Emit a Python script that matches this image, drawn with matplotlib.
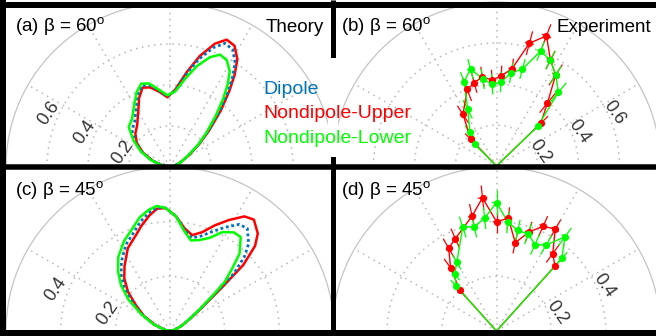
import numpy as np
import matplotlib
matplotlib.use("Agg")
import matplotlib.pyplot as plt
from matplotlib.lines import Line2D
from matplotlib.patches import Rectangle

plt.rcParams['font.family'] = ['Liberation Sans', 'DejaVu Sans']
plt.rcParams['mathtext.fontset'] = 'custom'
plt.rcParams['mathtext.rm'] = 'Liberation Sans'

W, H = 656, 336
BLUE, RED, GREEN = '#0072BD', '#FF0000', '#00FF00'

# ---- theory, beta = 60 deg (theta in degrees, r)
th_a = [0, 15, 25, 32, 38, 43, 48, 52, 55, 58, 62, 66, 70, 75, 80, 86, 92, 98,
        104, 109, 114, 120, 128, 136, 144, 152, 160, 168, 180]
up_a = [0, 0.03, 0.06, 0.11, 0.18, 0.26, 0.37, 0.47, 0.55, 0.62, 0.67, 0.68, 0.64,
        0.56, 0.47, 0.38, 0.34, 0.37, 0.40, 0.41, 0.37, 0.31, 0.26, 0.235, 0.20,
        0.15, 0.09, 0.04, 0]
dip_a = [0, 0.03, 0.06, 0.105, 0.175, 0.25, 0.355, 0.455, 0.53, 0.60, 0.65, 0.66,
         0.62, 0.545, 0.46, 0.375, 0.345, 0.375, 0.41, 0.42, 0.385, 0.33, 0.28,
         0.258, 0.21, 0.155, 0.095, 0.04, 0]
lo_a = [0, 0.03, 0.06, 0.10, 0.17, 0.24, 0.33, 0.42, 0.49, 0.55, 0.59, 0.60, 0.57,
        0.51, 0.44, 0.37, 0.35, 0.38, 0.42, 0.43, 0.40, 0.35, 0.30, 0.28, 0.22,
        0.16, 0.10, 0.04, 0]

# ---- theory, beta = 45 deg
th_c = [0, 15, 25, 32, 36, 40, 42, 45, 48, 53, 57, 62, 67, 72, 77, 82, 87, 92, 96,
        100, 105, 110, 117, 125, 131, 137, 143, 150, 158, 168, 180]
up_c = [0, 0.02, 0.05, 0.09, 0.14, 0.25, 0.36, 0.44, 0.48, 0.51, 0.50, 0.46, 0.42,
        0.38, 0.36, 0.38, 0.42, 0.45, 0.45, 0.43, 0.40, 0.37, 0.34, 0.29, 0.255,
        0.21, 0.155, 0.11, 0.06, 0.02, 0]
dip_c = [0, 0.02, 0.05, 0.088, 0.135, 0.23, 0.315, 0.385, 0.43, 0.47, 0.465, 0.43,
         0.395, 0.365, 0.35, 0.375, 0.42, 0.45, 0.455, 0.44, 0.415, 0.385, 0.355,
         0.31, 0.272, 0.228, 0.17, 0.115, 0.062, 0.02, 0]
lo_c = [0, 0.02, 0.05, 0.085, 0.13, 0.21, 0.27, 0.32, 0.38, 0.43, 0.43, 0.41, 0.37,
        0.35, 0.34, 0.37, 0.42, 0.45, 0.46, 0.45, 0.43, 0.40, 0.37, 0.33, 0.29,
        0.245, 0.19, 0.12, 0.065, 0.02, 0]

# ---- experiment, beta = 60 deg
up_b_th = [44, 51, 57, 63, 69, 75, 81, 87, 93, 99, 105, 111, 123, 134]
up_b_r = [0.30, 0.395, 0.53, 0.58, 0.68, 0.62, 0.48, 0.44, 0.42, 0.44, 0.42, 0.40, 0.30, 0.18]
up_b_err = [0.05, 0.06, 0.06, 0.05, 0.06, 0.06, 0.05, 0.05, 0.05, 0.05, 0.05, 0.06, 0.05, 0.04]
lo_b_th = [44, 50, 57, 63, 69, 75, 81, 87, 93, 99, 105, 111, 117, 128, 135]
lo_b_r = [0.28, 0.47, 0.53, 0.58, 0.60, 0.49, 0.46, 0.41, 0.40, 0.43, 0.49, 0.44, 0.31, 0.21, 0.15]
lo_b_err = [0.04, 0.06, 0.05, 0.05, 0.05, 0.05, 0.05, 0.05, 0.05, 0.05, 0.05, 0.05, 0.05, 0.04, 0.04]

# ---- experiment, beta = 45 deg
up_d_th = [48, 54, 60, 66, 72, 78, 84, 90, 96, 102, 114, 120, 126, 132]
up_d_r = [0.32, 0.35, 0.43, 0.42, 0.38, 0.33, 0.415, 0.40, 0.49, 0.43, 0.37, 0.35, 0.286, 0.20]
up_d_err = [0.03, 0.04, 0.04, 0.04, 0.04, 0.04, 0.04, 0.04, 0.045, 0.045, 0.04, 0.04, 0.04, 0.03]
lo_d_th = [48, 54, 60, 66, 72, 78, 84, 90, 96, 102, 108, 120, 126, 132]
lo_d_r = [0.357, 0.426, 0.363, 0.346, 0.374, 0.376, 0.40, 0.47, 0.415, 0.39, 0.40, 0.29, 0.26, 0.22]
lo_d_err = [0.03, 0.04, 0.04, 0.04, 0.04, 0.04, 0.04, 0.045, 0.04, 0.04, 0.04, 0.03, 0.03, 0.03]
th_err = 2.0

rticks_60 = [0.2, 0.4, 0.6]
rticks_45 = [0.2, 0.4]

fig = plt.figure(figsize=(W / 100, H / 100), dpi=100)


def polar_panel(ox, oy, R, rmax, rticks, lab_th, lab_r, rot):
    # square box, the half disk sits in its middle half
    ax = fig.add_axes([(ox - R) / W, (H - oy - 0.5 * R) / H, 2 * R / W, 2 * R / H],
                      projection='polar')
    ax.set_thetamin(0)
    ax.set_thetamax(180)
    ax.set_rlim(0, rmax)
    ax.set_rticks(rticks)
    ax.set_yticklabels([])
    ax.set_xticks(np.deg2rad([0, 30, 60, 90, 120, 150, 180]))
    ax.set_xticklabels([])
    ax.tick_params(length=0)
    ax.grid(True, color='#b8b8b8', linestyle=(0, (1, 3)), linewidth=1.1)
    ax.spines['polar'].set_color('#c4c4c4')
    ax.spines['polar'].set_linewidth(0.9)
    for s in ['start', 'end', 'inner']:
        ax.spines[s].set_visible(False)
    ax.patch.set_visible(False)
    for t, th, r in zip(rticks, lab_th, lab_r):
        ax.text(np.deg2rad(th), r, '%g' % t, rotation=rot, ha='center', va='center',
                rotation_mode='anchor', fontsize=13, color='#333333')
    return ax


def theory(ax, th, up, dip, lo):
    t = np.deg2rad(th)
    ax.plot(t, up, color=RED, lw=1.8)
    ax.plot(t, dip, color=BLUE, lw=2.0, linestyle=(0, (1, 1)))
    ax.plot(t, lo, color=GREEN, lw=1.8)


def experiment(ax, th, r, err, c):
    t = np.deg2rad(th)
    ax.errorbar(t, r, yerr=err, xerr=np.deg2rad(th_err), fmt='none', ecolor=c,
                elinewidth=0.9, capsize=0, zorder=2)
    ax.plot(np.deg2rad([th[0]] + th + [th[-1]]), [0] + r + [0], color=c, lw=1.0, zorder=3)
    ax.plot(t, r, 'o', color=c, ms=5.2, mec='none', zorder=4)


R = 164
ax_a = polar_panel(170, 167, R, 0.8, rticks_60, [163, 158, 156], [0.24, 0.45, 0.645], 55)
theory(ax_a, th_a, up_a, dip_a, lo_a)

ax_b = polar_panel(496.5, 166, R, 0.8, rticks_60, [18, 22.5, 24.5], [0.225, 0.435, 0.63], -55)
experiment(ax_b, up_b_th, up_b_r, up_b_err, RED)
experiment(ax_b, lo_b_th, lo_b_r, lo_b_err, GREEN)

ax_c = polar_panel(170, 331, R, 0.6, rticks_45, [164, 160], [0.236, 0.443], 55)
theory(ax_c, th_c, up_c, dip_c, lo_c)

ax_d = polar_panel(496.5, 331, R, 0.6, rticks_45, [16.7, 22.8], [0.23, 0.427], -55)
experiment(ax_d, up_d_th, up_d_r, up_d_err, RED)
experiment(ax_d, lo_d_th, lo_d_r, lo_d_err, GREEN)

# panel frames
def hline(y, x0, x1, lw):
    fig.add_artist(Line2D([x0 / W, x1 / W], [1 - y / H, 1 - y / H], color='black',
                          lw=lw * 0.72, solid_capstyle='butt', zorder=2))


def vline(x, y0, y1, lw):
    fig.add_artist(Line2D([x / W, x / W], [1 - y0 / H, 1 - y1 / H], color='black',
                          lw=lw * 0.72, solid_capstyle='butt', zorder=2))


hline(4.5, 0, W, 6)
hline(166.5, 0, W, 5.5)
hline(332.5, 0, W, 7)
vline(3, 0, H, 6)
vline(332.5, 0, H, 5)
fig.add_artist(Rectangle((328 / W, 1 - 157 / H), 10 / W, 99 / H, transform=fig.transFigure,
                         facecolor='white', edgecolor='none', zorder=2.5))

# texts
fs = 13.5
deg = r'$^{\mathregular{o}}$'
fig.text(15 / W, 1 - 31.7 / H, '(a) β = 60' + deg, fontsize=fs, va='baseline')
fig.text(341 / W, 1 - 31.7 / H, '(b) β = 60' + deg, fontsize=fs, va='baseline')
fig.text(15 / W, 1 - 195.5 / H, '(c) β = 45' + deg, fontsize=fs, va='baseline')
fig.text(341 / W, 1 - 195.5 / H, '(d) β = 45' + deg, fontsize=fs, va='baseline')
fig.text(323.5 / W, 1 - 31.7 / H, 'Theory', fontsize=fs, va='baseline', ha='right')
fig.text(651 / W, 1 - 31.7 / H, 'Experiment', fontsize=fs, va='baseline', ha='right')

for name, c, yb in [('Dipole', BLUE, 93.5), ('Nondipole-Upper', RED, 118.5),
                    ('Nondipole-Lower', GREEN, 143.5)]:
    fig.text(263 / W, 1 - yb / H, name, color=c, fontsize=14, va='baseline')

fig.savefig('out.png', dpi=100)
